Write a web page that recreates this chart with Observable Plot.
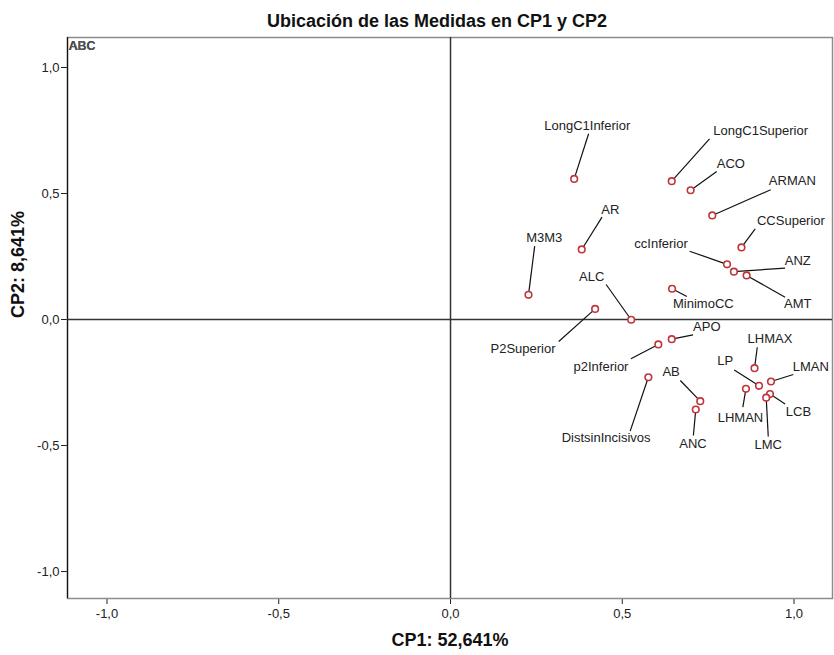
<!DOCTYPE html>
<html>
<head>
<meta charset="utf-8">
<script src="https://cdn.jsdelivr.net/npm/d3@7"></script>
<script src="https://cdn.jsdelivr.net/npm/@observablehq/plot@0.6"></script>
<style>
  html, body { margin: 0; padding: 0; background: #fff; }
</style>
</head>
<body>
<div id="chart"></div>
<script>
const title = "Ubicación de las Medidas en CP1 y CP2";
const xLabel = "CP1: 52,641%";
const yLabel = "CP2: 8,641%";
const ticks = [-1, -0.5, 0, 0.5, 1];

const names = ["LongC1Inferior","LongC1Superior","ACO","ARMAN","CCSuperior","ccInferior","ANZ","AMT","MinimoCC","AR","M3M3","P2Superior","ALC","APO","p2Inferior","DistsinIncisivos","AB","ANC","LHMAX","LP","LMAN","LHMAN","LCB","LMC"];
const cp1 = [0.360,0.644,0.699,0.762,0.847,0.805,0.825,0.862,0.645,0.382,0.227,0.421,0.526,0.644,0.605,0.576,0.727,0.714,0.885,0.898,0.933,0.860,0.930,0.919];
const cp2 = [0.558,0.549,0.513,0.413,0.286,0.219,0.190,0.175,0.122,0.278,0.098,0.042,-0.001,-0.078,-0.099,-0.229,-0.324,-0.357,-0.193,-0.263,-0.246,-0.275,-0.296,-0.310];
// label anchor (text centre) in component units
const labelCP1 = [0.398,0.903,0.816,0.995,0.991,0.613,1.011,1.011,0.736,0.465,0.273,0.211,0.411,0.746,0.438,0.453,0.642,0.706,0.930,0.800,1.049,0.844,1.013,0.925];
const labelCP2 = [0.770,0.750,0.618,0.549,0.393,0.300,0.233,0.062,0.062,0.437,0.324,-0.118,0.168,-0.031,-0.187,-0.469,-0.209,-0.493,-0.077,-0.163,-0.187,-0.390,-0.365,-0.496];
// leader line end (near label) in component units
const leaderCP1 = [0.402,0.754,0.775,0.932,0.887,0.696,0.974,0.974,0.688,0.441,0.245,0.315,0.453,0.706,0.525,0.523,0.669,0.707,0.893,0.826,0.998,0.851,0.974,0.925];
const leaderCP2 = [0.737,0.717,0.587,0.515,0.360,0.271,0.204,0.088,0.091,0.406,0.291,-0.087,0.139,-0.061,-0.156,-0.443,-0.242,-0.460,-0.110,-0.200,-0.218,-0.348,-0.335,-0.464];

const data = names.map((n, i) => ({
  name: n, x: cp1[i], y: cp2[i],
  tx: labelCP1[i], ty: labelCP2[i],
  lx: leaderCP1[i], ly: leaderCP2[i]
}));

const xDomain = [-1.115, 1.112];
const yDomain = [-1.107, 1.119];
const fmt = d => d.toFixed(1).replace(".", ",");
const font = "'Liberation Sans', Arial, sans-serif";

const chart = Plot.plot({
  width: 834,
  height: 655,
  marginLeft: 67,
  marginRight: 2,
  marginTop: 37,
  marginBottom: 57,
  style: { fontFamily: font, fontSize: "13px", color: "#222", background: "#fff" },
  x: { domain: xDomain, ticks: ticks, tickFormat: fmt, tickSize: 6, tickPadding: 4, label: null },
  y: { domain: yDomain, ticks: ticks, tickFormat: fmt, tickSize: 6, tickPadding: 2, label: null },
  marks: [
    Plot.frame({ stroke: "#8c8c8c", strokeWidth: 1.5 }),
    Plot.ruleX([xDomain[0]], { stroke: "#111", strokeWidth: 1.2 }),
    Plot.ruleX([0], { stroke: "#333", strokeWidth: 1.5 }),
    Plot.ruleY([0], { stroke: "#333", strokeWidth: 1.5 }),
    Plot.link(data, { x1: "x", y1: "y", x2: "lx", y2: "ly", stroke: "#111", strokeWidth: 1.2 }),
    Plot.dot(data, { x: "x", y: "y", r: 3.3, stroke: "#c0353a", strokeWidth: 1.6, fill: "white" }),
    Plot.text(data, { x: "tx", y: "ty", text: "name", fontSize: 13, fill: "#222" }),
    Plot.text(["ABC"], { text: d => d, frameAnchor: "top-left", dx: 1, dy: 4, fontSize: 12.5, fontWeight: "bold", fill: "#333", textAnchor: "start" }),
    Plot.text(["ABC"], { text: d => d, frameAnchor: "top-left", dx: 2, dy: 4, fontSize: 12.5, fill: "#555", textAnchor: "start" }),
    Plot.text([title], { text: d => d, frameAnchor: "top", dx: -13, dy: -23, fontSize: 18, fontWeight: "bold", fill: "#111" }),
    Plot.text([xLabel], { text: d => d, frameAnchor: "bottom", dy: 47, fontSize: 18, fontWeight: "bold", fill: "#111" }),
    Plot.text([yLabel], { text: d => d, frameAnchor: "left", dx: -49, rotate: -90, fontSize: 18, fontWeight: "bold", fill: "#111" })
  ]
});
document.getElementById("chart").appendChild(chart);
</script>
</body>
</html>
